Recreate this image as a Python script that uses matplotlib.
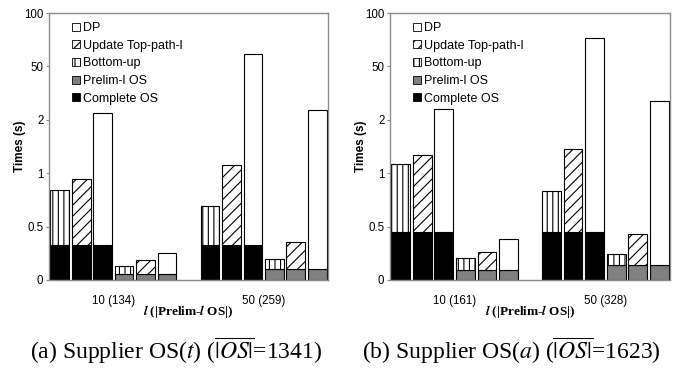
import numpy as np
import matplotlib.pyplot as plt
from matplotlib.patches import Patch

plt.rcParams['font.family'] = ['Liberation Sans', 'DejaVu Sans']
plt.rcParams['hatch.linewidth'] = 0.8
plt.rcParams['mathtext.fontset'] = 'stix'

# the original y axis has evenly spaced ticks with uneven values
tick_vals = [0, 0.5, 1, 2, 50, 100]
tick_pos = np.arange(len(tick_vals), dtype=float)

# (a) Supplier OS(t)
groups_t = ['10 (134)', '50 (259)']
complete_t = [0.33, 0.33]
prelim_t = [0.056, 0.10]
bu_full_t = [0.84, 0.69]
up_full_t = [0.95, 1.15]
dp_full_t = [7.8, 62.0]
bu_pre_t = [0.134, 0.20]
up_pre_t = [0.184, 0.353]
dp_pre_t = [0.25, 10.7]

# (b) Supplier OS(a)
groups_a = ['10 (161)', '50 (328)']
complete_a = [0.45, 0.45]
prelim_a = [0.094, 0.14]
bu_full_a = [1.17, 0.836]
up_full_a = [1.335, 1.459]
dp_full_a = [11.4, 76.9]
bu_pre_a = [0.203, 0.243]
up_pre_a = [0.265, 0.43]
dp_pre_a = [0.384, 19.1]

spine_col = '#8c8c8c'
styles = {
    'DP': dict(facecolor='white'),
    'Update Top-path-l': dict(facecolor='white', hatch='///'),
    'Bottom-up': dict(facecolor='white', hatch='|||'),
    'Prelim-l OS': dict(facecolor='#808080'),
    'Complete OS': dict(facecolor='black'),
}


def fwd(v):
    return np.interp(v, tick_vals, tick_pos)


def inv(p):
    return np.interp(p, tick_pos, tick_vals)


def draw(ax, groups, complete, prelim, bu_full, up_full, dp_full,
         bu_pre, up_pre, dp_pre, caption, cap_x):
    w = 0.87
    kw = dict(width=w, edgecolor='black', linewidth=0.8)
    for g in range(len(groups)):
        x0 = 7 * g
        tops_full = [bu_full[g], up_full[g], dp_full[g]]
        tops_pre = [bu_pre[g], up_pre[g], dp_pre[g]]
        names = ['Bottom-up', 'Update Top-path-l', 'DP']
        for i in range(3):
            ax.bar(x0 + i, complete[g], **kw, **styles['Complete OS'])
            ax.bar(x0 + i, tops_full[i] - complete[g], bottom=complete[g],
                   **kw, **styles[names[i]])
            ax.bar(x0 + 3 + i, prelim[g], **kw, **styles['Prelim-l OS'])
            ax.bar(x0 + 3 + i, tops_pre[i] - prelim[g], bottom=prelim[g],
                   **kw, **styles[names[i]])

    ax.set_yscale('function', functions=(fwd, inv))
    ax.set_ylim(0, 100)
    ax.set_yticks(tick_vals)
    ax.set_yticklabels([f'{v:g}' for v in tick_vals])
    ax.minorticks_off()
    ax.set_xlim(-0.5, 12.5)
    ax.set_xticks([2.5, 9.5])
    ax.set_xticklabels(groups)
    ax.tick_params(axis='x', length=0, pad=11, labelsize=8.3)
    ax.tick_params(axis='y', length=2, pad=2, labelsize=8.3, color=spine_col)
    for s in ax.spines.values():
        s.set_color(spine_col)
        s.set_linewidth(1.0)

    ax.set_ylabel('Times (s)', fontsize=8.5, fontweight='bold')
    ax.yaxis.set_label_coords(-0.082, 0.5)
    ax.set_xlabel(r'$\mathbfit{l}$ (|Prelim-$\mathbfit{l}$ OS|)',
                  family='Liberation Serif', fontweight='bold', fontsize=9.5)
    ax.xaxis.set_label_coords(0.5, -0.088)

    order = ['DP', 'Update Top-path-l', 'Bottom-up', 'Prelim-l OS', 'Complete OS']
    handles = [Patch(edgecolor='black', linewidth=0.6, **styles[k]) for k in order]
    ax.legend(handles, order, loc='upper left', bbox_to_anchor=(0.083, 0.966),
              frameon=False, fontsize=9.0, handlelength=0.6, handleheight=0.6,
              handletextpad=0.25, labelspacing=0.45, borderpad=0, borderaxespad=0)

    ax.figure.text(cap_x, 0.052, caption, family='Liberation Serif',
                   fontsize=17, ha='center', va='center')


fig = plt.figure(figsize=(6.82, 3.70), dpi=100)
ax1 = fig.add_axes([49 / 682, 90 / 370, 279 / 682, 267 / 370])
ax2 = fig.add_axes([390 / 682, 90 / 370, 280 / 682, 267 / 370])

draw(ax1, groups_t, complete_t, prelim_t, bu_full_t, up_full_t, dp_full_t,
     bu_pre_t, up_pre_t, dp_pre_t,
     r'(a) Supplier OS($t$) ($\overline{|OS|}$=1341)', 176.5 / 682)
draw(ax2, groups_a, complete_a, prelim_a, bu_full_a, up_full_a, dp_full_a,
     bu_pre_a, up_pre_a, dp_pre_a,
     r'(b) Supplier OS($a$) ($\overline{|OS|}$=1623)', 511 / 682)

fig.savefig('out.png', dpi=100)
